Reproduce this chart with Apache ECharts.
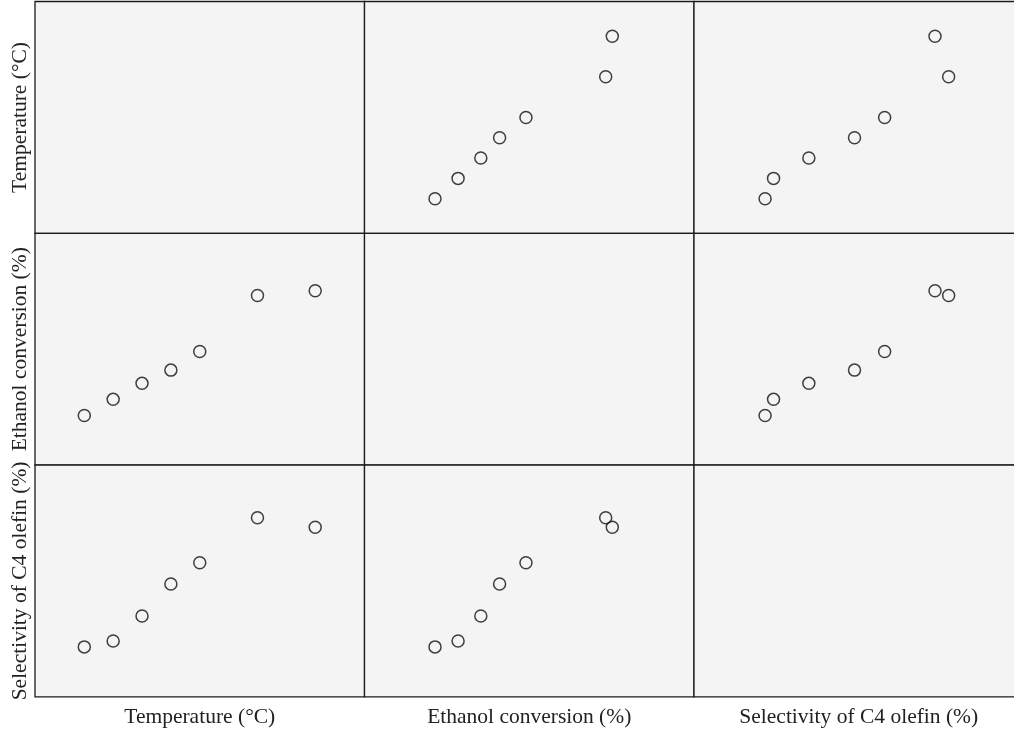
<!DOCTYPE html>
<html>
<head>
<meta charset="utf-8">
<title>Scatter matrix</title>
<script src="https://cdn.jsdelivr.net/npm/echarts@6/dist/echarts.min.js"></script>
<style>
  html, body { margin: 0; padding: 0; background: #fff; }
  #main { width: 1014px; height: 731px; }
</style>
</head>
<body>
<div id="main"></div>
<script>
// values
var temperature = [250, 275, 300, 325, 350, 400, 450]
var ethanol = [1.4, 8.4, 15.3, 21.0, 29.0, 53.2, 55.2]
var selectivity = [5.1, 6.9, 14.4, 24.1, 30.5, 44.1, 41.2]

var varNames = ['Temperature (°C)', 'Ethanol conversion (%)', 'Selectivity of C4 olefin (%)']
var varData = [temperature, ethanol, selectivity]
var varMin = [207.3, -20, -10]
var varMax = [492.7, 80, 60]

var colLeft = [35, 364.5, 694]
var rowTop = [1.5, 233.3, 465]
var cellW = 329.5
var cellH = 231.9

var font = 'Liberation Serif'

var grids = []
var xAxes = []
var yAxes = []
var series = []

for (var r = 0; r < 3; r++) {
  for (var c = 0; c < 3; c++) {
    var idx = grids.length
    grids.push({
      left: colLeft[c],
      top: rowTop[r],
      width: cellW,
      height: cellH,
      outerBoundsMode: 'none',
      show: true,
      backgroundColor: '#f4f4f4',
      borderColor: '#1a1a1a',
      borderWidth: 1.3
    })
    xAxes.push({
      gridIndex: idx,
      type: 'value',
      min: varMin[c],
      max: varMax[c],
      axisLine: { show: false },
      axisTick: { show: false },
      axisLabel: { show: false },
      splitLine: { show: false },
      name: r === 2 ? varNames[c] : '',
      nameLocation: 'middle',
      nameGap: 9,
      nameTextStyle: { fontFamily: font, fontSize: 21.5, color: '#222' }
    })
    yAxes.push({
      gridIndex: idx,
      type: 'value',
      min: varMin[r],
      max: varMax[r],
      axisLine: { show: false },
      axisTick: { show: false },
      axisLabel: { show: false },
      splitLine: { show: false },
      name: c === 0 ? varNames[r] : '',
      nameLocation: 'middle',
      nameGap: 4,
      nameTextStyle: { fontFamily: font, fontSize: 21.5, color: '#222' }
    })
    if (r !== c) {
      var pts = []
      for (var i = 0; i < temperature.length; i++) {
        pts.push([varData[c][i], varData[r][i]])
      }
      series.push({
        type: 'scatter',
        xAxisIndex: idx,
        yAxisIndex: idx,
        data: pts,
        symbol: 'circle',
        symbolSize: 12,
        itemStyle: {
          color: 'rgba(0,0,0,0)',
          borderColor: '#111',
          borderWidth: 1.5
        },
        silent: true
      })
    }
  }
}

var chart = echarts.init(document.getElementById('main'))
chart.setOption({
  animation: false,
  backgroundColor: '#fff',
  grid: grids,
  xAxis: xAxes,
  yAxis: yAxes,
  series: series
})
</script>
</body>
</html>
